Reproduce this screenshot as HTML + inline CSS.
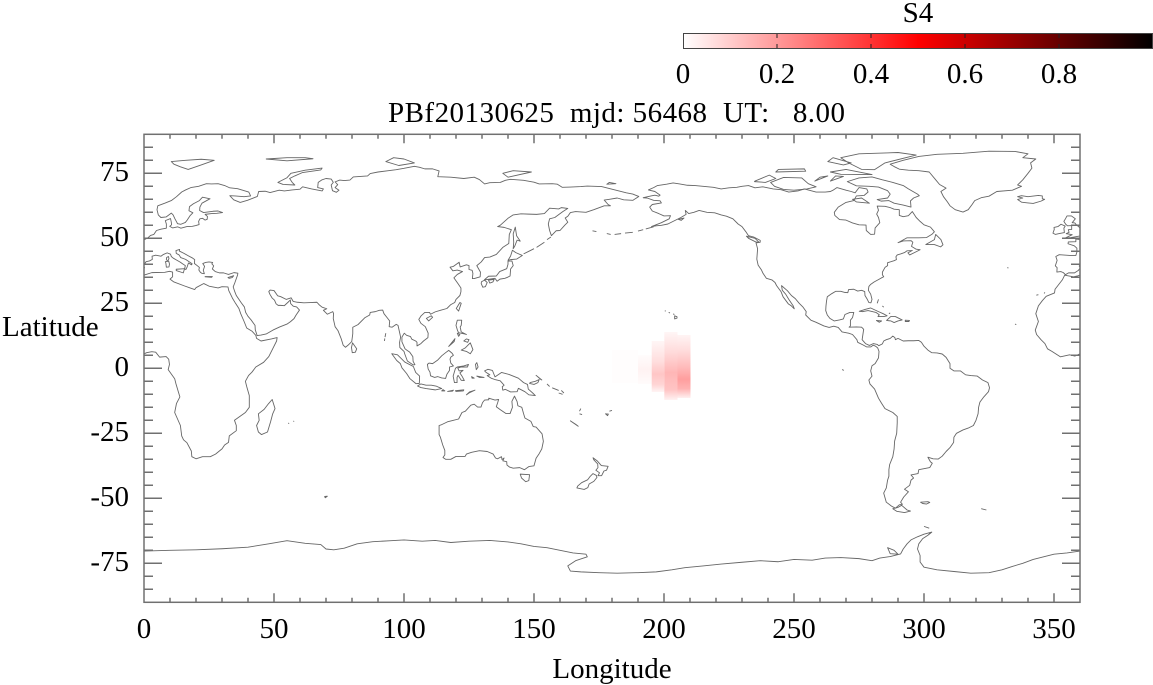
<!DOCTYPE html>
<html><head><meta charset="utf-8"><style>
html,body{margin:0;padding:0;background:#fff;}
svg{display:block;}
text{font-family:"Liberation Serif",serif;font-size:29px;fill:#000;}
</style></head><body>
<svg width="1153" height="685" viewBox="0 0 1153 685" xmlns="http://www.w3.org/2000/svg">
<defs>
<linearGradient id="cb" x1="0" y1="0" x2="1" y2="0">
<stop offset="0" stop-color="#ffffff"/><stop offset="0.5" stop-color="#ff0000"/><stop offset="1" stop-color="#000000"/>
</linearGradient>
<linearGradient id="g1" gradientUnits="userSpaceOnUse" x1="0" y1="341" x2="0" y2="392">
<stop offset="0" stop-color="#fff6f6"/><stop offset="0.4" stop-color="#ffdede"/><stop offset="0.65" stop-color="#ffc6c6"/><stop offset="0.85" stop-color="#ffd4d4"/><stop offset="1" stop-color="#fff4f4"/>
</linearGradient>
<linearGradient id="g2" gradientUnits="userSpaceOnUse" x1="0" y1="332" x2="0" y2="400">
<stop offset="0" stop-color="#fff6f6"/><stop offset="0.3" stop-color="#ffdada"/><stop offset="0.6" stop-color="#ffb6b6"/><stop offset="0.85" stop-color="#ffc4c4"/><stop offset="1" stop-color="#fff2f2"/>
</linearGradient>
<linearGradient id="g3" gradientUnits="userSpaceOnUse" x1="0" y1="335" x2="0" y2="398">
<stop offset="0" stop-color="#fff4f4"/><stop offset="0.25" stop-color="#ffdcdc"/><stop offset="0.5" stop-color="#ffbcbc"/><stop offset="0.7" stop-color="#ff9e9e"/><stop offset="0.85" stop-color="#ffb2b2"/><stop offset="1" stop-color="#fff0f0"/>
</linearGradient>
<linearGradient id="g0" gradientUnits="userSpaceOnUse" x1="0" y1="355" x2="0" y2="384">
<stop offset="0" stop-color="#fffcfc"/><stop offset="0.5" stop-color="#fff2f2"/><stop offset="1" stop-color="#fffbfb"/>
</linearGradient>
<clipPath id="plot"><rect x="144" y="134.3" width="936" height="468"/></clipPath>
</defs>
<rect width="1153" height="685" fill="#fff"/>

<!-- colorbar -->
<text x="918" y="22" text-anchor="middle">S4</text>
<rect x="683.5" y="33.5" width="469" height="15" fill="url(#cb)" stroke="#444" stroke-width="1"/>
<path d="M777,34v4M871,34v4M965,34v4M1059,34v4M777,48v-4M871,48v-4M965,48v-4M1059,48v-4" stroke="#222" stroke-width="1"/>
<text x="683" y="83" text-anchor="middle">0</text>
<text x="777" y="83" text-anchor="middle">0.2</text>
<text x="871" y="83" text-anchor="middle">0.4</text>
<text x="965" y="83" text-anchor="middle">0.6</text>
<text x="1059" y="83" text-anchor="middle">0.8</text>

<!-- title -->
<text x="388" y="122" textLength="457" lengthAdjust="spacing" style="white-space:pre" xml:space="preserve">PBf20130625  mjd: 56468  UT:   8.00</text>

<!-- heat blob -->
<g clip-path="url(#plot)">
<rect x="612" y="350" width="26" height="33" fill="#fffdfd"/>
<rect x="638" y="355" width="13.7" height="29" fill="url(#g0)"/>
<rect x="651.7" y="341" width="12.6" height="51" fill="url(#g1)"/>
<rect x="664.3" y="332" width="13.2" height="68" fill="url(#g2)"/>
<rect x="677.5" y="335" width="13" height="63" fill="url(#g3)"/>
</g>

<!-- coastlines -->
<g clip-path="url(#plot)">
<g transform="translate(144,368.3) scale(2.6,-2.6)" fill="none" stroke="#666" stroke-width="0.9" stroke-linejoin="round" vector-effect="non-scaling-stroke">
<g>
<path vector-effect="non-scaling-stroke" d="M-5.9,35.8 -6.8,34 -9.6,30.4 -9.8,29 -13,27.7 -14.5,26 -16,24 -17,21 -16.5,19.5 -16,18 -17.2,14.7 -16.7,13 -15,11 -13.5,9.5 -12.5,7.5 -10.8,6.5 -7.5,4.4 -4,5.2 -2,4.7 1,6 3,6.4 4.5,6.2 6,4.3 8.5,4.5 9.5,3.5 9.8,1.5 9.3,-0.5 11.8,-4 12.3,-6 13.2,-9 13.8,-11 12.5,-13.5 11.8,-17 14,-22 14.5,-26 15.2,-27.5 16.5,-28.6 18.2,-31.8 18.4,-34 20,-34.8 22.5,-34 25.5,-34 27.5,-33 30,-31 31,-29.5 32.5,-28.5 32.8,-26 35.5,-24 35.5,-22 34.8,-20 36.5,-18.8 39,-17 40.5,-15 40.5,-10.5 39.5,-7 39,-5 40.2,-2.8 41.5,-1.5 43,0.5 46,2.3 48,4.5 49.5,7.5 51,10.5 51.2,11.8 49,11.3 45,10.5 43.3,11.5 43,12.7 41.5,14.3 39.5,15.5 38.5,18 37.2,21 36.5,23 35.2,25 34,27 32.6,29.9 32.3,31.3 30,31.4 28.5,30.9 25,31.6 23,32.6 20,31 19.5,30.3 18,30.8 15.5,31.7 11.5,33.2 10,34.3 11,35.2 11,37 9.8,37.3 8,36.9 3,36.8 -1,35.5 -2.5,35.2 -5.9,35.8Z"/>
<path vector-effect="non-scaling-stroke" d="M49.3,-12 50.4,-15.5 49.5,-17.5 48.7,-20.5 47.5,-24.5 45.2,-25.5 44,-24.5 43.3,-22 44.3,-20 44,-17.5 46.2,-15.8 47.9,-13.6Z"/>
<path vector-effect="non-scaling-stroke" d="M-5.6,36 -6.4,36.8 -7.4,37.2 -8.9,37 -8.8,38.7 -9.5,39.4 -8.8,41.5 -9.3,43 -8,43.7 -4,43.4 -1.6,43.4 -1.2,44.7 -1.2,46.2 -2.2,47.1 -4.6,47.9 -4.5,48.6 -1.6,48.7 -1.6,49.7 0.2,49.5 1.5,50.2 2.5,51.1 3.8,51.5 4.8,53 6.5,53.5 8.6,53.9 8.6,55.5 8.2,56.8 10.2,57.6 10.5,56.2 10.6,55.2 9.9,54.6 11,54 13,54.4 14.2,53.9 16.5,54.5 18.6,54.6 19.9,54.9 21.2,55.3 21,56.5 21.5,57.5 22.5,57.7 23.5,57 24.3,57.3 24.4,58.4 23.5,59.2 26,59.5 28,59.6 30.2,59.9 28.5,60.5 26.5,60.4 22.9,59.9 21.4,60.7 21.5,62 22.3,63.5 25,65 25.4,65.2 22.5,65.8 21.3,64.5 19,63.3 17.5,62.2 17.3,60.6 18.8,59.8 17.8,58.8 16.6,57 15.9,56.1 14.2,55.4 12.9,55.6 12.6,56.2 11.9,57.5 11.2,59 10.5,59.7 8.5,58.2 6.5,58 5.5,59 5,61 5.3,62.5 8,63.5 10.5,64.5 12.5,66 14.5,67.8 16,68.6 18,69.5 21,70 24,71 26,70.9 28.5,71 31,70.3 33,69.4 36,69.1 40.3,67.8 41,66.3 38.5,66 35,66.3 33,66.4 34.5,64.8 37,63.8 39.8,64.6 43.6,66.1 44.1,68 46.6,68.1 48.5,67.6 52,68.5 54,68.2 57,68.6 60,68.9 61,69.8 64.5,69 67,68.5 68.5,68.2 69,69 66.8,69.5 67,71.5 68.5,72.5 70,73 72,72.8 72.8,71.5 72,70.5 72.5,68.3 74,67.7 75,68.5 73.5,69.5 74.5,70.6 73.5,71.7 75.3,72.4 77,72.2 79.2,72.4 80.5,73.6 86,74 87,74.9 90,75.5 94,76 97,76.4 100,76.9 104,77.7 106,77.3 108,76.7 111,76.7 113.5,75.9 113,73.7 118,73.5 123,73 127,73.5 129,72.6 131,70.9 133,71.4 137,71.5 139,72.3 141,72.7 146,72.3 150,71.6 152,70.9 157,71 159,70.8 160.9,69.6 164,69.7 168,69.9 170.5,70.1 176,69.9 180,68.9 185.5,67.5 188,67 190.3,66.1 188,64.6 184.5,64.8 182,65.5 179,65 177,64.7 178.5,63 179.4,62.5 177,62.5 173,61 170,60 166,60.3 164,59.9 163,58.5 162,57.8 163,56.2 161.8,55 160,53 158.5,52.9 156.7,51 156,53 155.5,55.5 156,57.5 158,58 161,60.2 163,61.5 160.5,61.8 159.5,61.3 156,61.6 154,59.5 151,59.2 148,59.3 145,59.4 142,59 140,57.7 137,55 136,54.5 138.5,54.2 141.3,53.3 140.5,51.5 140.3,48 138,46.5 135.5,43.8 133,42.8 131,42.6 129.7,40.9 128,39.5 129.4,37 129.3,35.2 127,34.5 126.3,34.5 126.5,36.5 126.2,37.7 125,38 125,39.5 124,39.8 121.6,39 121.2,40.8 119,39.2 117.7,38.9 118.8,37.5 120.5,37.8 122.5,37.2 120.5,36.1 119.2,34.8 120.8,32.5 121.9,30.9 121.9,29.5 121.5,28 120,26.5 119.5,25.3 118,24.5 116.5,23 114,22.3 112,21.7 110.2,20.8 109.8,21.5 108,21.5 106.6,20.2 105.7,18.8 106.5,17.3 108.2,16 109.3,13.5 109.2,11.8 107.5,10.5 106.5,9.5 105,8.6 105,10 104.5,10.5 103,11.2 102.5,12.2 101,12.7 100.1,13.5 99.2,12 99.2,10.2 100.4,7.5 101.2,6.9 102.2,6.2 103.4,4.5 103.5,2.7 104.2,1.4 103.5,1.3 101.3,2.8 100.3,5.5 100,6.5 98.4,8 98.3,10 98.7,12 97.7,16.5 97,16.9 95.4,15.8 94.3,16 94.5,18.2 93.5,19.5 92.3,21 91.8,22.4 90.5,22.3 89,21.8 87,21.5 86.8,20.5 85,19.5 82.3,16.8 80.3,15.8 80.3,13.3 79.9,10.3 78.5,8.9 77.5,8.1 76.6,8.9 75.8,11.5 74.6,14.5 73.5,16 72.8,19.1 72.9,21.1 72.6,21.8 70.5,20.8 69,22.3 70.3,22.9 68.5,23.5 67.3,24.5 66.5,25.4 64,25.3 61.5,25.2 59,25.4 57.4,25.7 56.6,27.1 54.7,26.5 52.5,27.6 51.4,27.9 50,29.9 48.5,30.1 48,29.5 48.4,28.5 49.3,27 50.2,26.2 50.8,24.8 51.6,24.2 52.6,24.2 54,24.1 55.5,25.5 56.3,26.3 56.4,24.9 57.4,23.9 58.7,23.6 59.8,22.4 58.5,20.5 57.7,19.1 56.3,17.9 55,17 52.2,15.9 49.6,14.7 47,13.2 45,12.8 43.5,12.6 42.8,14.8 42.7,16.5 41.2,18.6 40,20 39.1,21.5 38.6,23.6 37.4,25.2 35.5,28 34.9,29.5 34.3,31.3 34.9,32.8 35.5,34.5 36,35.9 36.1,36.6 34.6,36.8 32.5,36.1 30.6,36.7 29,36.7 27.4,37.2 26.3,38.2 26.8,39.4 26.1,40.2 26.4,40.7 25,40.9 23.7,40.7 22.6,40.3 23.3,39.2 22.8,37.7 23.2,36.4 22.3,36.5 21.7,36.9 21.1,37.8 21.3,38.8 20.2,39.7 19.4,40.3 19.5,41.8 18.5,42.5 17,43.3 15.2,44.3 13.6,45.1 13.7,45.7 12.3,45.3 12.4,44.2 13.5,43.6 14.1,42.6 16,41.9 18.5,40.2 18.3,39.8 17.1,40.5 16.6,39 16.1,38 15.6,38.2 15.9,39.5 14.8,40.2 14,40.8 12.4,41.7 11.2,42.4 10.5,43 10.2,43.9 8.9,44.4 7.5,43.8 6.5,43.1 4.5,43.5 3.1,43.1 3.2,41.9 2.1,41.3 0.8,41 0,39.9 -0.3,39.3 0.2,38.7 -0.7,37.6 -2.1,36.7 -4.4,36.7 -5.6,36Z"/>
<path vector-effect="non-scaling-stroke" d="M9.5,41.2 9.8,40.1 9.6,39 8.6,38.9 8.4,40.5 8.2,41ZM9.4,43 9.6,42.2 9.2,41.4 8.6,41.7 8.7,42.6ZM12.4,38.1 15.6,38.3 15.1,36.7 12.4,37.6ZM23.5,35.3 26.3,35.3 26,35 23.5,35.2ZM32.3,34.9 34.5,35.6 33.9,34.9 32.8,34.6Z"/>
<path vector-effect="non-scaling-stroke" d="M51.5,71.5 55,73.3 56.5,75 62,76.2 68.5,77 68,76.3 61,75.3 58,74 56,73 57,71.5 58,70.5 53.5,70.7Z
M10.5,79.5 16,80 22,80.4 27,80 22,78.2 17,76.5 14,77.5 11.5,78.5Z
M47,80.5 55,81 62,81 65,80.6 55,79.8Z
M93,79.5 96,81 100,80.5 104,79 98,78Z
M138,75 142,76 149,75.5 140,73.5Z
M179,71.5 181.5,71 178,70.8Z"/>
<path vector-effect="non-scaling-stroke" d="M130.9,34 132.5,35.4 135.5,35.5 136.8,37.2 139.5,38.3 140,40 140,41.2 141.5,41.3 142,39.5 141,38.2 140.9,36.8 140.8,35.5 139.8,35 138.8,34.6 136.9,34.3 135.8,33.5 135,34.6 133,34.3Z
M129.8,33.3 131,33.9 132,33 131.3,31.4 130.3,31.2 129.7,32.6Z
M132.5,33.9 134.7,34.2 134.2,33.2 133,32.8Z
M140,41.5 141,43.2 141.7,45.4 143,44.5 145.5,43.4 143.3,42 141,41.8Z
M142,46 142.2,48.5 142,51.7 142.8,54.3 143.3,51 144.7,48.9 143.5,49.3 142.6,47Z
M146,44 148,45 150,46 M151,46.5 154,48.5 M155,49.5 156.5,50.5
M120.1,23 121.5,25.3 122,25 121,22Z
M108.6,19.2 110.5,20.2 111,19.6 109.5,18.2Z
M79.8,8 80.2,9.8 81.8,7.5 81.3,6.2 80.1,6Z
M92.7,12 93,13.5 M92.5,10.5 92.6,11.5"/>
<path vector-effect="non-scaling-stroke" d="M120.5,18.5 122.2,18.5 122,16.5 121.6,15.9 122,14 124,13 123.3,13.2 121,13.7 120.6,14.5 120,16.5Z
M122,7 123.5,7.8 125.5,9.8 126.5,7.2 125.5,5.6 124,6.5Z
M123,10.5 124,11.3 125,11 124.5,10Z
M117.2,8.4 119.6,11.4 119.3,10.3Z
M120.5,13.5 121.5,13 121,12.3Z
M109,1.5 109.6,2 111,1.8 113,3.2 114.5,4.8 116,6 117.2,6.9 118.5,5.8 119,5 118,4.3 117.7,3.5 118,2 119,0.9 117.5,0.5 117.5,-0.8 116.5,-2.3 116,-3.9 114.5,-3.7 113,-3.2 111.8,-3.5 110.2,-2.9 110,-1.5 109.3,-0.3Z
M95.3,5.6 97.5,5.2 100.3,2.4 103.6,0.7 104.5,-1.6 106,-3 105.9,-5.8 104.6,-5.9 102.3,-4 101,-2 99.2,0.2 98.6,1.8 97.2,3Z
M105.2,-6.8 106.5,-6 108.5,-6.5 110.5,-6.5 112.5,-6.9 114.5,-7.8 112,-8.3 108.5,-7.8 106.5,-7.4Z
M115,-8.2 115.7,-8.7 114.5,-8.7Z
M116.8,-8.9 119,-8.4 118.6,-8.8Z
M119.8,-8.6 123,-8.3 122.8,-8.7 120,-8.9Z
M124,-10.2 125.2,-9.1 127.3,-8.4 125,-9.5Z
M119.4,-5.5 118.9,-3 119.8,0 120.5,0.5 123,0.9 124.8,1.5 124.4,0.5 122,0.5 120.7,0.1 121.2,-1 122.7,-0.8 121.5,-1.8 122.3,-3 123.2,-4.7 122,-4.6 121.5,-3.8 120.8,-2.7 120.4,-3.5 120.4,-5.5Z
M127.5,1.5 128,2.2 128.5,0.5 127.8,-0.5Z
M128,-3 130.8,-3.5 129,-3.5Z
M126,-3.2 127,-3.8 126.2,-3.8Z
M131,-1 132.3,-0.4 134,-0.8 135,-3.3 137.5,-1.6 140.5,-2.4 144,-3.8 146,-5.5 147.5,-6.2 147.8,-8 149.5,-9.5 150.5,-10.5 148,-10.2 146.5,-9 144,-7.7 143.5,-9 141,-9.1 139,-8.1 138,-8.4 137.8,-7.1 138.5,-6.5 137,-4.8 135.2,-4.4 133.5,-3.8 132,-2.8 133,-2.5 131.5,-1.5Z
M148.5,-5.5 150.5,-5 152,-4.3 151.5,-5.5 150,-6.2 148.3,-5.8Z
M150.8,-2.7 153,-4.5 152.5,-4.2Z
M155,-6 156,-7 M157,-7.5 159.5,-8.5 M159.5,-9.5 161,-10 M160.5,-8.5 161.5,-9.5"/>
<path vector-effect="non-scaling-stroke" d="M113.5,-22 114.2,-21.8 116.7,-20.6 119,-20 121,-19.5 122.3,-17 123.6,-16.5 125.7,-14.2 127,-13.8 128.3,-14.9 129.6,-14.9 130.2,-13.2 131,-12.2 132.6,-12.1 132.6,-11.5 135,-12.2 136.4,-12 136,-13.3 135.5,-14.8 137,-15.9 139.2,-17.4 140.8,-17.4 141.7,-15 141.5,-12.7 142.5,-10.7 143.5,-12.8 143.8,-14.4 145.3,-15 146,-17.5 146.5,-19.1 148.8,-20.4 149.7,-22.4 150.8,-22.6 153.1,-25.2 153.6,-28.1 153,-31 152,-32.8 150.8,-34.6 150,-37.5 148,-37.8 146.3,-39 144.5,-38.2 142,-38.4 140.6,-38 139.6,-37.2 139.5,-35.9 138,-35.6 138.5,-34.5 137.7,-35.1 137.5,-34 136,-34.8 135.2,-34.5 134.3,-33 132,-32 129,-31.7 126,-32.3 124,-33 123.5,-33.9 120,-33.9 118,-35 116,-35 115,-34.3 115.7,-33.3 115.7,-31.6 114.9,-29.5 114,-26.5 113.5,-25.5 113.5,-24.5Z
M144.7,-40.7 148.3,-40.9 148,-43.2 146.8,-43.6 145.2,-42.2Z
M172.7,-34.4 174.3,-35.6 175.9,-37.4 178.5,-37.7 177.9,-39.2 176.9,-39.5 176,-41.3 174.6,-41.3 175.2,-40.2 173.8,-39.2 174.6,-38.2 174.5,-36.8 173,-35.2Z
M172.7,-40.5 174,-41.2 174.2,-42 173,-43.5 171.2,-44.5 170.7,-45.9 169.3,-46.6 166.5,-46 166.8,-45.3 168.3,-44 170.6,-42.9 171.5,-41.7Z
M164,-20.2 167,-22.3 166,-21.5Z
M177.5,-17.5 178.6,-17.6 178.3,-18.2Z M179,-16.5 180,-16.2
M168,-15.5 167.5,-16.5 M167.5,-17.5 168.5,-17.8
M55.5,-21 55.8,-21.3 M57.5,-20.2 57.7,-20.5
M69.5,-49.3 70.5,-49.2 69.7,-49.8Z
M172.5,52.9 174,52.6 M178,51.8 179.5,51.5"/>
<path vector-effect="non-scaling-stroke" d="M0,-70.3 10,-70 20,-69.8 30,-69.4 40,-68.8 48,-67.5 55,-66.3 62,-67.3 68,-67.8 70,-69.5 73,-69.8 77,-69.2 82,-67.5 88,-66.7 95,-66.3 100,-66 107,-66.5 112,-66.2 118,-67 125,-66.5 133,-66.2 140,-66.8 145,-67.5 150,-68.5 155,-69 160,-70 165,-71 170,-71.5 170.5,-72.5 166,-74 163,-76 164,-78 168,-78.3 175,-78.6 182,-78.8 190,-78.6 197,-78.3 203,-77.5 208,-76.7 215,-76 222,-75.3 230,-74.6 237,-74 244,-74.4 250,-73.5 257,-73.8 262,-73 268,-72.8 275,-73.2 280,-74 283,-73 287,-72.4 291,-71.4 292,-69.5 293.5,-67.5 295,-66 297.5,-64.8 300,-63.8 303,-63 301.5,-64.2 299.5,-65.5 298,-67.5 297.5,-69.5 298.5,-72 298.5,-74.5 300,-76.5 305,-77.5 312,-78.2 318,-78.8 325,-78.6 330,-77.5 334,-76.2 338,-75 342,-73.5 346,-72.5 350,-71.5 355,-71 360,-70.3"/>
<path vector-effect="non-scaling-stroke" d="M286,-69 288.5,-70 290,-71.5 287,-71.3Z M300,-60.8 302,-61.5"/>
</g>
<g transform="translate(360,0)">
<path vector-effect="non-scaling-stroke" d="M-77.4,8.7 -76,9.4 -75.5,10.5 -74.5,11 -73,11.5 -72,12.4 -71.2,11.8 -71,11 -70,11.5 -68,10.5 -66,10.6 -64,10.6 -62,10.7 -61,10 -60,8.5 -58.5,7 -57,6 -55,5.9 -53,5.5 -51.5,4.2 -50,1.8 -50,0 -48.5,-1 -46,-1 -44,-2.5 -42,-2.8 -39.5,-3 -37.5,-4.5 -35.4,-5.5 -34.8,-7.5 -35.2,-9 -37,-11 -38.5,-13 -39,-15 -39.2,-17.5 -40,-20 -41,-22 -43,-23 -45,-23.7 -47.5,-25 -48.5,-26.5 -48.6,-28.5 -50,-30.5 -51.5,-32 -53,-33.8 -54.5,-34.9 -56.5,-34.8 -58.5,-34.2 -57.5,-36 -56.8,-36.5 -57.8,-38.2 -62,-39 -62.3,-40.5 -65,-41 -64,-42.2 -65,-43 -65.5,-45 -67.5,-46.5 -66,-47.5 -67.8,-49.5 -69,-51.5 -68.3,-52.3 -69.5,-52.5 -71,-53.8 -72.5,-53 -74.5,-51.5 -75.5,-48 -74.5,-46 -74,-43 -73.5,-41.5 -73.5,-39 -73.2,-37 -72,-34 -71.5,-31 -71.3,-28 -70.5,-25 -70.3,-21 -70.3,-18.5 -72,-17 -75,-15.5 -76.3,-13.5 -77.5,-11.5 -79,-8 -80.8,-6 -81.2,-4.5 -80,-3 -80.5,-1 -80,1 -78.8,1.8 -77.5,4 -77.3,6.5 -77.8,7.8 -78.5,8.4 -79.5,8.9 -80.5,8.2 -82,8.2 -83.5,9 -85.5,10 -85.8,11 -87.5,13 -89,13.5 -91.5,14 -93,15.7 -94.7,16.2 -96.5,15.7 -98.5,16.3 -101.5,17.7 -103.5,18.5 -105.5,20.5 -105.3,21.8 -106.5,23.5 -108,25 -109.5,26.8 -111,28 -112.5,29.8 -114.8,31.8 -114.5,30 -113.2,28.5 -112,26.5 -110.3,24 -109.9,22.9 -111,24 -112.2,24.8 -114.2,27.5 -115,29.5 -116.7,31.8 -117.3,33 -118.5,34 -120.6,34.6 -121.9,36.5 -122.5,37.8 -123.8,39.7 -124.3,42 -124,46 -124.6,48.2 -123,48.5 -123,49.2 -125.5,50.5 -127.5,51 -128.5,52.5 -130,54.5 -131.5,55.5 -133.5,57.5 -136,58.5 -138,59 -140.5,59.8 -143.5,60 -146.5,60.7 -148.5,60 -150.5,59.5 -151.8,60.7 -151.5,59.2 -153.5,58 -156.5,56.5 -158.5,55.5 -161,55 -163,54.8 -164.8,54.5 -161,56 -158,57.5 -157.5,58.7 -160,58.6 -162,59.5 -164.5,60.5 -165.5,62 -164.5,63 -161,63.6 -161.5,64.4 -164,64.6 -166.5,65.5 -168,65.6 -165,66.3 -163.5,66.6 -162,66.2 -161.5,66.6 -163.5,68 -166,68.6 -164,69.5 -162.5,70.3 -159,70.8 -156.5,71.3 -154,70.9 -151,70.4 -148,70.3 -145,70 -141,69.6 -138,69 -135,69.4 -132,69.6 -130,70 -127.5,70.3 -125,69.4 -122,69.8 -118,69 -115,68.7 -112,67.8 -108.5,68.2 -106,69 -101.5,67.8 -98,67.8 -96,68 -95,68.5 -93.5,69.5 -90,68.5 -88,68 -86.5,67.5 -85,69.5 -82,69 -81.5,67.8 -83,66.5 -86,66.3 -87,64.5 -90,63.8 -93,62 -94.5,60 -94.3,58.8 -92.5,57.2 -90,57 -87.5,55.9 -85,55.2 -82.3,55.1 -82.2,53 -80.5,51.5 -79,51.6 -78.8,54 -77,56 -77.5,58 -78.2,59.3 -77.5,60.8 -78,62.4 -75,62.3 -73,61.8 -71.5,61.2 -69.5,61 -69.5,58.8 -68,58.3 -66,58.7 -64.5,60.3 -63,58 -61.5,56.5 -60,55.2 -57.5,54.3 -56,52.5 -57,51.5 -59,50.3 -62,50.2 -66.5,50.2 -70,48.3 -68,49 -65,49.1 -64.3,48.5 -64.8,46.9 -63,45.8 -61.5,45.6 -63.5,44.6 -65.5,43.6 -66.2,44.4 -64.5,45.3 -66.5,45.2 -67.5,44.5 -69,44 -70.3,43.6 -70.8,42.9 -70.6,41.8 -71.5,41.4 -74,40.6 -74,39.5 -75,38.8 -76,37 -76,36 -75.5,35.2 -76.5,34.7 -77.9,33.9 -79.2,33.2 -80.5,32.3 -81.2,31.5 -81.4,30 -80.5,28.5 -80,26.5 -80.4,25.2 -81.2,25.3 -81.8,26.5 -82.7,28 -82.8,29.5 -84,30 -85.5,29.7 -87,30.4 -89,30.3 -89.3,29.1 -90.5,29.2 -92,29.6 -94,29.6 -95.5,28.7 -97.2,27.5 -97.5,25.8 -97.7,24 -97.8,22.2 -97.2,20.5 -96.2,19.2 -94.5,18.2 -92.5,18.6 -91,19 -90.4,20.7 -88.5,21.5 -87,21.5 -87.5,19.5 -88.3,18.5 -88.3,16.3 -88.8,15.8 -86,15.9 -84,15.8 -83.2,15 -83.5,13 -83.8,11 -82.5,9.5 -81,8.8 -79.5,9.5 -78,9.2 -77.4,8.7Z"/>
<path vector-effect="non-scaling-stroke" d="M-68.6,-52.7 -66.5,-54.5 -65.2,-54.9 -67.5,-55.5 -70.5,-55 -72,-54 -70,-53.5Z
M-61.3,-51.5 -58.5,-51.3 -57.8,-51.6 -59,-52.2 -60.5,-52Z
M-38,-54 -36,-54.5
M-73,78.5 -68,80 -62,81.5 -55,82.3 -45,82.7 -35,83.5 -25,83.4 -20,82.5 -22,81 -17,80.5 -19,79 -18.5,77 -20,75 -22,72.5 -24,70.5 -22.5,70 -26,68.5 -32,68 -35,66.2 -38,65.6 -40.5,64.5 -41.5,63 -43,61 -45,60.1 -48,61 -50,62.5 -51,64 -52.5,66 -53.5,68 -51.5,69.3 -54,70.7 -55.5,72.5 -58,75.5 -62,76 -66,76.2 -69.5,76.6 -71.5,77.6Z
M-65,62 -68,62.8 -71.5,63.5 -73.5,64.5 -76.5,64.3 -78,64.9 -74,65.5 -73,67 -74,68.3 -77.5,69.7 -81,70 -86,70.2 -89.5,71.8 -85,73.2 -80,73.6 -76,72.5 -72,71.5 -68,70.3 -66,69 -62.5,67 -61.8,66.4 -64,65.5 -65.2,64.4Z
M-119,71.5 -114,73.4 -107,73.2 -104.5,71 -101.5,69.8 -105,69 -110,68.5 -114,68.8 -117.5,70Z
M-75,79 -63,82 -70,83 -85,82.5 -92,81 -89,79 -84,76.5 -79,76.4Z
M-80,74.5 -90,76.5 -96,75.5 -92,74.6Z
M-125,72 -119.5,74.3 -117,73 -121,71.5 -125.2,71.8Z
M-117,75.5 -105.5,75.8 -106,76.7 -116,76.5Z
M-88,79 -95,81 -97,79.5 -91,78.2Z
M-102,72 -97,74 -100,73.5Z
M-96,72 -91,73.8 -94,74Z
M-86,64 -81,63.5 -84,65.5 -87.5,65Z
M-59.3,47.6 -56,49.5 -55.5,51.5 -53.5,49.5 -52.7,47.5 -53.6,46.7 -56,47.6Z
M-84.9,21.9 -82.5,22.7 -80.5,23.2 -77.5,21.8 -75.7,21 -74.2,20.2 -75.5,19.9 -77.7,19.9 -77.2,20.6 -78.5,21.5 -81.5,22.2 -83.5,21.8Z
M-74.4,18.4 -72.8,19.9 -71,19.9 -68.4,18.6 -70,18.2 -71.5,17.6 -72.7,18.2Z
M-78.3,18.4 -76.3,18.2 -77.2,17.7Z
M-67.2,18.5 -65.6,18.4 -65.8,18 -67.2,18Z
M-78,25 -77.5,26.5 M-76,24 -75.5,23.5 M-73.5,21 -73,21.3
M-128.3,50.8 -125,50 -123.4,48.4 -124.7,48.6 -127.5,50Z
M-154.5,57.3 -152.3,57.8 -153.4,56.9Z
M-164,54.4 -167,53.6 M-168,53.3 -170,52.8 M-172,52.3 -175,52 M-176.5,51.8 -179,51.5
M-155.9,20.2 -155,19.8 -155,19.3 -155.9,19 -155.9,20.2Z M-156.5,20.9 -156,20.7 M-158.2,21.5 -157.7,21.3 M-159.7,22.1 -159.3,22
M-91.5,-0.5 -90.8,-0.8
M-22.5,63.9 -24,64.9 -22,65.5 -24,66 -22.5,66.4 -20,66 -16,66.5 -14.5,66.3 -14.5,65.2 -13.6,65 -15,64.3 -18,63.4 -20,63.6Z
M-5.7,50.1 -3.5,50.3 -1,50.7 1.4,51.2 1.7,52.7 0.3,53.4 -0.2,54.2 -1.5,55.3 -2,55.9 -3,56 -1.8,57.5 -3.3,58.6 -5,58.6 -5.6,57.5 -6.2,56.5 -5.5,55.4 -4.8,54.8 -3.2,54.9 -3.2,53.4 -4.5,53.3 -4.2,52.3 -5.3,51.8 -3,51.4Z
M-6,52.2 -6.2,53.9 -5.7,54.7 -7.3,55.4 -8.5,54.5 -10,54.2 -9.9,53.4 -10.4,52 -9.5,51.5 -8,51.8Z
M3,36.8 -1,35.5 -2.5,35.2 -5.9,35.8 -6.8,34 -9.6,30.4 -9.8,29 -13,27.7 -14.5,26 -16,24 -17,21 -16.5,19.5 -16,18 -17.2,14.7 -16.7,13 -15,11 -13.5,9.5 -12.5,7.5 -10.8,6.5 -7.5,4.4 -4,5.2 -2,4.7 1,6
M3.1,43.1 3.2,41.9 2.1,41.3 0.8,41 0,39.9 -0.3,39.3 0.2,38.7 -0.7,37.6 -2.1,36.7 -4.4,36.7 -5.6,36 -6.4,36.8 -7.4,37.2 -8.9,37 -8.8,38.7 -9.5,39.4 -8.8,41.5 -9.3,43 -8,43.7 -4,43.4 -1.6,43.4 -1.2,44.7 -1.2,46.2 -2.2,47.1 -4.6,47.9 -4.5,48.6 -1.6,48.7 -1.6,49.7 0.2,49.5 1.5,50.2 2.5,51.1
M-16,28.3 -16.8,28.1 M-13.8,28.8 -13.5,29.2 M-25,17 -24.5,16.8 M-28,38.7 -27.5,38.6"/>
</g>
</g>
</g>

<g stroke="#707070" stroke-width="1.5" fill="none">
<rect x="144" y="134.3" width="936" height="468"/>
<path d="M170,602.3v-4.5M196,602.3v-4.5M222,602.3v-4.5M248,602.3v-4.5M274,602.3v-9M300,602.3v-4.5M326,602.3v-4.5M352,602.3v-4.5M378,602.3v-4.5M404,602.3v-9M430,602.3v-4.5M456,602.3v-4.5M482,602.3v-4.5M508,602.3v-4.5M534,602.3v-9M560,602.3v-4.5M586,602.3v-4.5M612,602.3v-4.5M638,602.3v-4.5M664,602.3v-9M690,602.3v-4.5M716,602.3v-4.5M742,602.3v-4.5M768,602.3v-4.5M794,602.3v-9M820,602.3v-4.5M846,602.3v-4.5M872,602.3v-4.5M898,602.3v-4.5M924,602.3v-9M950,602.3v-4.5M976,602.3v-4.5M1002,602.3v-4.5M1028,602.3v-4.5M1054,602.3v-9"/>
<path d="M170,134.3v4.5M196,134.3v4.5M222,134.3v4.5M248,134.3v4.5M274,134.3v9M300,134.3v4.5M326,134.3v4.5M352,134.3v4.5M378,134.3v4.5M404,134.3v9M430,134.3v4.5M456,134.3v4.5M482,134.3v4.5M508,134.3v4.5M534,134.3v9M560,134.3v4.5M586,134.3v4.5M612,134.3v4.5M638,134.3v4.5M664,134.3v9M690,134.3v4.5M716,134.3v4.5M742,134.3v4.5M768,134.3v4.5M794,134.3v9M820,134.3v4.5M846,134.3v4.5M872,134.3v4.5M898,134.3v4.5M924,134.3v9M950,134.3v4.5M976,134.3v4.5M1002,134.3v4.5M1028,134.3v4.5M1054,134.3v9"/>
<path d="M144,147.3h9M144,160.3h9M144,173.3h18M144,186.3h9M144,199.3h9M144,212.3h9M144,225.3h9M144,238.3h18M144,251.3h9M144,264.3h9M144,277.3h9M144,290.3h9M144,303.3h18M144,316.3h9M144,329.3h9M144,342.3h9M144,355.3h9M144,368.3h18M144,381.3h9M144,394.3h9M144,407.3h9M144,420.3h9M144,433.3h18M144,446.3h9M144,459.3h9M144,472.3h9M144,485.3h9M144,498.3h18M144,511.3h9M144,524.3h9M144,537.3h9M144,550.3h9M144,563.3h18M144,576.3h9M144,589.3h9"/>
<path d="M1080,147.3h-9M1080,160.3h-9M1080,173.3h-18M1080,186.3h-9M1080,199.3h-9M1080,212.3h-9M1080,225.3h-9M1080,238.3h-18M1080,251.3h-9M1080,264.3h-9M1080,277.3h-9M1080,290.3h-9M1080,303.3h-18M1080,316.3h-9M1080,329.3h-9M1080,342.3h-9M1080,355.3h-9M1080,368.3h-18M1080,381.3h-9M1080,394.3h-9M1080,407.3h-9M1080,420.3h-9M1080,433.3h-18M1080,446.3h-9M1080,459.3h-9M1080,472.3h-9M1080,485.3h-9M1080,498.3h-18M1080,511.3h-9M1080,524.3h-9M1080,537.3h-9M1080,550.3h-9M1080,563.3h-18M1080,576.3h-9M1080,589.3h-9"/>
</g>

<g text-anchor="end">
<text x="129" y="181">75</text>
<text x="129" y="246">50</text>
<text x="129" y="311">25</text>
<text x="129" y="376">0</text>
<text x="129" y="441">-25</text>
<text x="129" y="506">-50</text>
<text x="129" y="571">-75</text>
</g>
<g text-anchor="middle">
<text x="144" y="638">0</text>
<text x="274" y="638">50</text>
<text x="404" y="638">100</text>
<text x="534" y="638">150</text>
<text x="664" y="638">200</text>
<text x="794" y="638">250</text>
<text x="924" y="638">300</text>
<text x="1054" y="638">350</text>
<text x="612" y="678">Longitude</text>
</g>
<text x="2" y="336">Latitude</text>
</svg>
</body></html>
